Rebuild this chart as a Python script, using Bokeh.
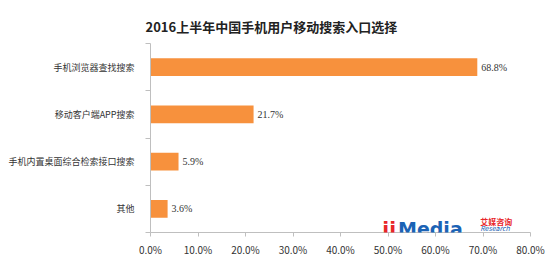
from bokeh.plotting import figure
from bokeh.models import ColumnDataSource, Range1d, FixedTicker, PrintfTickFormatter, Label
from bokeh.embed import file_html
from bokeh.resources import INLINE

title = "2016上半年中国手机用户移动搜索入口选择"
categories = ["手机浏览器查找搜索", "移动客户端APP搜索", "手机内置桌面综合检索接口搜索", "其他"]
values = [68.8, 21.7, 5.9, 3.6]
x_ticks = [0, 10, 20, 30, 40, 50, 60, 70, 80]

n = len(categories)
ypos = [n - i - 0.5 for i in range(n)]
src = ColumnDataSource(dict(y=ypos, v=values, lbl=[f"{v:.1f}%" for v in values], cat=categories))

FONT = "Noto Sans CJK SC"
p = figure(width=551, height=263, output_backend="svg", toolbar_location=None,
           x_range=Range1d(0, 80), y_range=Range1d(0, n),
           min_border_left=150, min_border_right=21, min_border_top=43, min_border_bottom=31)
p.background_fill_color = "white"
p.border_fill_color = "white"
p.outline_line_color = None
p.grid.visible = False

p.hbar(y="y", right="v", left=0, height=0.38, source=src, color="#F7913D", line_color=None)
p.text(x="v", y="y", text="lbl", source=src, x_offset=4, text_align="left", text_baseline="middle",
       text_font=FONT, text_font_size="10px", text_color="#333333")

# y axis
ya = p.yaxis[0]
ya.ticker = FixedTicker(ticks=ypos, minor_ticks=list(range(n + 1)))
ya.major_label_overrides = {y: c for y, c in zip(ypos, categories)}
ya.major_tick_line_color = None
ya.minor_tick_out = 5
ya.minor_tick_in = 0
ya.minor_tick_line_color = "#BFBFBF"
ya.axis_line_color = "#BFBFBF"
ya.major_label_text_font = FONT
ya.major_label_text_font_size = "9px"
ya.major_label_text_color = "#333333"
ya.major_label_standoff = 10

xa = p.xaxis[0]
xa.ticker = FixedTicker(ticks=x_ticks)
xa.formatter = PrintfTickFormatter(format="%.1f%%")
xa.axis_line_color = "#BFBFBF"
xa.major_tick_line_color = "#BFBFBF"
xa.major_tick_out = 4
xa.major_tick_in = 0
xa.minor_tick_line_color = None
xa.major_label_text_font = FONT
xa.major_label_text_font_size = "10px"
xa.major_label_text_color = "#333333"
xa.major_label_standoff = 5

p.title.text = title
p.title.text_font = FONT
p.title.text_font_size = "13px"
p.title.text_font_style = "bold"
p.title.text_color = "#222222"
p.title.align = "left"
p.title.offset = -5
p.title.standoff = 16

# logo
p.add_layout(Label(x=48.8, y=0.08, text="ii", text_color="#E8262A", text_font="DejaVu Sans",
                   text_font_size="20px", text_font_style="bold", text_baseline="alphabetic"))
p.add_layout(Label(x=52.1, y=0.08, text="Media", text_color="#1B63B5", text_font="DejaVu Sans",
                   text_font_size="19px", text_font_style="bold", text_baseline="alphabetic"))
p.add_layout(Label(x=69.4, y=0.23, text="艾媒咨询", text_color="#E8262A", text_font=FONT,
                   text_font_size="8px", text_font_style="bold", text_baseline="alphabetic"))
p.add_layout(Label(x=69.4, y=0.09, text="Research", text_color="#1B63B5", text_font=FONT,
                   text_font_size="7px", text_font_style="italic", text_baseline="alphabetic"))

open("out.html", "w").write(file_html(p, INLINE))
